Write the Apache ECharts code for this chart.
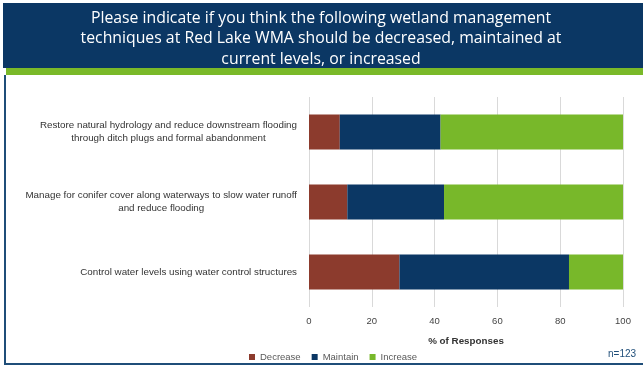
<!DOCTYPE html>
<html>
<head>
<meta charset="utf-8">
<script src="https://cdn.jsdelivr.net/npm/echarts@6/dist/echarts.min.js"></script>
<style>
  html, body { margin: 0; padding: 0; background: #fff; }
  #chart { width: 643px; height: 367px; }
</style>
</head>
<body>
<div id="chart"></div>
<script>
// survey items (top to bottom)
const categories = [
  ['Restore natural hydrology and reduce downstream flooding', 'through ditch plugs and formal abandonment'],
  ['Manage for conifer cover along waterways to slow water runoff', 'and reduce flooding'],
  ['Control water levels using water control structures']
];
const decrease = [9.8, 12.2, 28.8];
const maintain = [32.1, 30.8, 54.0];
const increase = [58.1, 57.0, 17.2];
const xTicks = [0, 20, 40, 60, 80, 100];

const navy = '#0b3764';
const green = '#78b82a';
const brown = '#8c3b2d';

let myChart = echarts.init(document.getElementById('chart'));

function bar(name, data, color) {
  return {
    name: name,
    type: 'bar',
    stack: 'total',
    data: data,
    barWidth: '50%',
    itemStyle: { color: color }
  };
}

let option = {
  animation: false,
  textStyle: { fontFamily: 'Liberation Sans' },
  graphic: [
    { type: 'rect', shape: { x: 3, y: 3, width: 640, height: 65 }, style: { fill: navy } },
    { type: 'rect', shape: { x: 6, y: 68, width: 637, height: 7 }, style: { fill: '#7ab929' } },
    { type: 'rect', shape: { x: 4, y: 75, width: 2, height: 290 }, style: { fill: '#1f4e79' } },
    { type: 'rect', shape: { x: 4, y: 363, width: 639, height: 2 }, style: { fill: '#1f4e79' } },
    {
      type: 'text',
      style: {
        x: 321, y: 8,
        text: 'Please indicate if you think the following wetland management\ntechniques at Red Lake WMA should be decreased, maintained at\ncurrent levels, or increased',
        fill: '#fff', font: '15.8px "Open Sans"', lineHeight: 20.5, align: 'center', verticalAlign: 'top'
      }
    },
    {
      type: 'text', left: 608, top: 349,
      style: { text: 'n=123', fill: '#1f4e79', font: '10px "Liberation Sans"' }
    }
  ],
  legend: {
    left: 244, top: 347,
    icon: 'rect', itemWidth: 6, itemHeight: 6, itemGap: 11,
    textStyle: { fontSize: 9.5, color: '#595959', fontFamily: 'Liberation Sans' },
    data: ['Decrease', 'Maintain', 'Increase']
  },
  grid: { left: 309, right: 20, top: 97, bottom: 60 },
  xAxis: {
    type: 'value', min: 0, max: 100, interval: 20,
    name: '% of Responses', nameLocation: 'middle', nameGap: 29,
    nameTextStyle: { fontSize: 9.8, fontWeight: 'bold', color: '#333' },
    axisLine: { show: false }, axisTick: { show: false },
    axisLabel: {
      margin: 9, fontSize: 9.5, color: '#444',
      formatter: v => xTicks.includes(v) ? String(v) : ''
    },
    splitLine: { lineStyle: { color: '#d9d9d9' } }
  },
  yAxis: {
    type: 'category', inverse: true,
    data: categories.map(c => c.join('\n')),
    axisLine: { show: false }, axisTick: { show: false },
    axisLabel: {
      margin: 12, fontSize: 9.8, color: '#333', lineHeight: 13,
      formatter: v => v.split('\n').map(s => '{c|' + s + '}').join('\n'),
      rich: { c: { align: 'center', fontSize: 9.8, color: '#333', lineHeight: 13 } }
    }
  },
  series: [
    bar('Decrease', decrease, brown),
    bar('Maintain', maintain, navy),
    bar('Increase', increase, green)
  ]
};
myChart.setOption(option);
</script>
</body>
</html>
